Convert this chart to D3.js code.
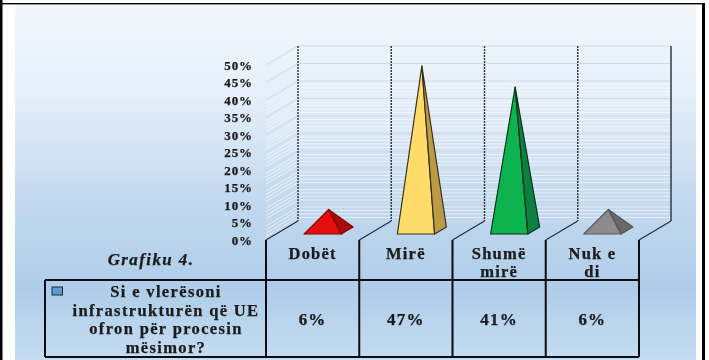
<!DOCTYPE html>
<html><head><meta charset="utf-8">
<script src="https://cdnjs.cloudflare.com/ajax/libs/d3/7.8.5/d3.min.js"></script>
<style>html,body{margin:0;padding:0;background:#fff}svg{display:block}text{font-family:"Liberation Serif",serif;font-weight:bold;fill:#1a1a1a;stroke:#1a1a1a;stroke-width:.25px}</style>
</head><body><svg id="c" width="709" height="360"></svg>
<script>
const categories = ["Dobët","Mirë","Shumë mirë","Nuk e di"];
const categoryLines = [["Dobët"],["Mirë"],["Shumë","mirë"],["Nuk e","di"]];
const values = [6,47,41,6];
const valueLabels = ["6%","47%","41%","6%"];
const yTicks = [0,5,10,15,20,25,30,35,40,45,50];
const minorTicks = d3.range(1,40).filter(d=>d%5!==0);
const seriesName = ["Si e vlerësoni","infrastrukturën që UE","ofron për procesin","mësimor?"];
const chartTitle = "Grafiku 4.";
const faceColors = [["#e60b0b","#a80808","#8a0606"],["#ffdb6b","#bd9b45","#33301f"],["#0bb350","#0a8040","#07301a"],["#8c8c8c","#676767","#555555"]];

const svg = d3.select("#c");
const defs = svg.append("defs");
const g = defs.append("linearGradient").attr("id","bg").attr("x1",0).attr("y1",0).attr("x2",0).attr("y2",1);
[[0,"#f2f7fc"],[.25,"#e6eff9"],[.55,"#c3d9ef"],[.8,"#afcde9"],[1,"#c5dcf1"]].forEach(s=>g.append("stop").attr("offset",s[0]).attr("stop-color",s[1]));
const soft = defs.append("filter").attr("id","soft").attr("x","-5%").attr("y","-5%").attr("width","110%").attr("height","110%");
soft.append("feGaussianBlur").attr("stdDeviation",0.4);

svg.append("rect").attr("x",15).attr("y",4).attr("width",681).attr("height",356).attr("fill","url(#bg)");
svg.append("rect").attr("x",0).attr("y",0).attr("width",2.5).attr("height",360).attr("fill","#000");
svg.append("rect").attr("x",0).attr("y",3).attr("width",705).attr("height",1.4).attr("fill","#000");
svg.append("rect").attr("x",702).attr("y",3).attr("width",3).attr("height",357).attr("fill","#000");

const root = svg.append("g").attr("filter","url(#soft)");

const x = d3.scaleBand().domain(categories).range([266,639]);
const y = d3.scaleLinear().domain([0,50]).range([221,46]);
const yFront = d3.scaleLinear().domain([0,50]).range([240,65]);
const depthX = 32, depthY = 19;
const px = (front,depth)=>front+depth*depthX;

const wall = root.append("g");
const gridPath = v=>`M${x.range()[0]},${yFront(v)}L${x.range()[0]+depthX},${y(v)}L${x.range()[1]+depthX},${y(v)}`;
wall.selectAll("path.minor").data(minorTicks).join("path").attr("class","minor").attr("d",gridPath)
  .attr("fill","none").attr("stroke","#f7fafd").attr("stroke-opacity",.7).attr("stroke-width",1);
wall.selectAll("path.major").data(yTicks).join("path").attr("class","major").attr("d",gridPath)
  .attr("fill","none").attr("stroke","#d0dce8").attr("stroke-width",1);

const edges = [...categories.map(c=>x(c)), x.range()[1]];
root.selectAll("line.back").data(edges).join("line").attr("class","back")
  .attr("x1",d=>d+depthX).attr("x2",d=>d+depthX).attr("y1",y(50)).attr("y2",y(0))
  .attr("stroke","#333b45").attr("stroke-width",1.5).attr("stroke-dasharray",(d,i)=>i==4?null:"2 1");
root.selectAll("line.diag").data(edges).join("line").attr("class","diag")
  .attr("x1",d=>d).attr("x2",d=>d+depthX).attr("y1",yFront(0)).attr("y2",y(0))
  .attr("stroke","#1f2a38").attr("stroke-width",1.1);

const pad = 28, d0 = 0.316, d1 = 0.684;
const pyr = root.selectAll("g.pyr").data(categories).join("g").attr("class","pyr");
pyr.each(function(c,i){
  const sel = d3.select(this);
  const bw = x.bandwidth()-2*pad, l = x(c)+pad;
  const fl=[px(l,d0),yFront(0)-d0*depthY], fr=[fl[0]+bw,fl[1]];
  const br=[px(l+bw,d1),yFront(0)-d1*depthY];
  const cx=px(l+bw/2,0.5), cy=yFront(0)-0.5*depthY;
  const apex=[cx,cy-(y(0)-y(values[i]))];
  [[fl,fr,apex,0],[fr,br,apex,1]].forEach(f=>
    sel.append("path").attr("d",d3.line()(f.slice(0,3))+"Z").attr("fill",faceColors[i][f[3]])
      .attr("stroke",faceColors[i][2]).attr("stroke-width",1.2).attr("stroke-linejoin","round"));
});

const axis = root.append("g").attr("transform","translate(253,0)").call(d3.axisLeft(yFront).tickValues(yTicks).tickFormat(d=>d+"%").tickSize(0).tickPadding(0));
axis.select(".domain").remove();
axis.selectAll("text").attr("font-size",13).attr("letter-spacing",.9).style("font-family",'"Liberation Serif",serif').attr("dy","0.32em");

const tTop=280, tBot=357, tLeft=45;
const lines = root.append("g").attr("stroke","#0a0a12").attr("stroke-width",2).attr("fill","none");
lines.selectAll("line.v").data(edges).join("line").attr("class","v").attr("x1",d=>d).attr("x2",d=>d).attr("y1",yFront(0)).attr("y2",tBot);
lines.append("path").attr("d",`M${tLeft},${tTop}H${x.range()[1]}M${tLeft},${tBot}H${x.range()[1]}M${tLeft},${tTop}V${tBot}`);

const cat = root.selectAll("text.cat").data(categories).join("text").attr("class","cat")
  .attr("text-anchor","middle").attr("font-size",16.5).attr("letter-spacing",1.2);
cat.each(function(c,i){
  d3.select(this).selectAll("tspan").data(categoryLines[i]).join("tspan")
    .attr("x",x(c)+x.bandwidth()/2).attr("y",(d,j)=>258.5+j*18.5).text(d=>d);
});
root.selectAll("text.val").data(values).join("text").attr("class","val")
  .attr("x",(d,i)=>x(categories[i])+x.bandwidth()/2).attr("y",325).attr("text-anchor","middle")
  .attr("font-size",17).attr("letter-spacing",1.2).text((d,i)=>valueLabels[i]);
root.selectAll("text.ser").data(seriesName).join("text").attr("class","ser")
  .attr("x",166).attr("y",(d,i)=>297+i*18.7).attr("text-anchor","middle").attr("font-size",16.5).attr("letter-spacing",1.35).text(d=>d);
root.append("text").attr("x",151).attr("y",265).attr("text-anchor","middle").attr("font-size",17).attr("font-style","italic").attr("letter-spacing",1.4).text(chartTitle);
root.append("rect").attr("x",52).attr("y",287).attr("width",10.5).attr("height",8).attr("fill","#5b9bd5").attr("stroke","#1a2a3a").attr("stroke-width",1);
</script></body></html>
